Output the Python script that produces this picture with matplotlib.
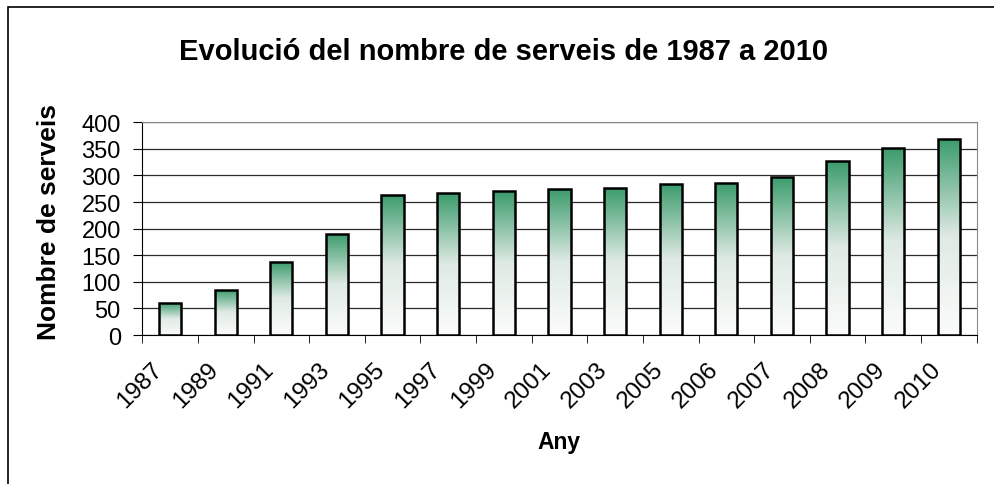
import matplotlib
matplotlib.use("Agg")
import matplotlib.pyplot as plt
import matplotlib.transforms as mtransforms
from matplotlib.patches import Rectangle
from matplotlib.colors import LinearSegmentedColormap
import numpy as np

years = ["1987", "1989", "1991", "1993", "1995", "1997", "1999", "2001",
         "2003", "2005", "2006", "2007", "2008", "2009", "2010"]
serveis = [61, 85, 138, 190, 264, 267, 270, 275, 277, 284, 286, 298, 328, 351, 369]

plt.rcParams["font.family"] = ["Liberation Sans", "DejaVu Sans"]

fig = plt.figure(figsize=(9.95, 4.85), dpi=100)
ax = fig.add_axes([0.143, 0.3072, 0.8386, 0.4386])

x = np.arange(len(years))
bars = ax.bar(x, serveis, width=0.4, facecolor="none", edgecolor="black",
              linewidth=1.8, zorder=3)

# gradient fill: white at the bottom, green at the top
cmap = LinearSegmentedColormap.from_list("g", ["#fbfcfb", "#dfeae4", "#3a9b6b"])
grad = np.linspace(0, 1, 256).reshape(-1, 1)
for b in bars:
    x0, w, h = b.get_x(), b.get_width(), b.get_height()
    im = ax.imshow(grad, cmap=cmap, origin="lower", aspect="auto",
                   extent=(x0, x0 + w, 0, h), zorder=2)
    im.set_clip_path(b)

ax.set_xlim(-0.5, len(years) - 0.5)
ax.set_ylim(0, 400)
ax.set_yticks(range(0, 401, 50))
ax.grid(axis="y", color="#2a2a2a", linewidth=0.9, zorder=1)

ax.set_xticks(x)
ax.set_xticklabels(years, rotation=45, ha="right", va="top",
                   rotation_mode="anchor", fontsize=17.5)
ax.set_xticks(np.arange(-0.5, len(years), 1), minor=True)
ax.tick_params(axis="x", which="major", length=0, pad=0)
ax.tick_params(axis="x", which="minor", length=6, direction="out", color="black")
ax.tick_params(axis="y", length=6.5, direction="out", labelsize=17, pad=9)
off = mtransforms.ScaledTranslation(-0.19, -0.23, fig.dpi_scale_trans)
for lab in ax.get_xticklabels():
    lab.set_transform(lab.get_transform() + off)

for s in ["top", "right"]:
    ax.spines[s].set_color("#888888")
for s in ["left", "bottom"]:
    ax.spines[s].set_color("black")

fig.text(49 / 995, 1 - 222 / 485, "Nombre de serveis", rotation=90,
         ha="center", va="center", fontsize=19, fontweight="bold")
fig.text(559 / 995, 1 - 443 / 485, "Any", ha="center", va="center",
         fontsize=16.5, fontweight="bold")
fig.text(503.5 / 995, 1 - 52 / 485, "Evolució del nombre de serveis de 1987 a 2010",
         ha="center", va="center", fontsize=21, fontweight="bold")

fig.patches.append(Rectangle((8 / 995, -0.1), 1.2, 1.1 - 8 / 485,
                             transform=fig.transFigure, fill=False,
                             edgecolor="black", linewidth=1.2))

fig.savefig("out.png", dpi=100)
plt.close(fig)
